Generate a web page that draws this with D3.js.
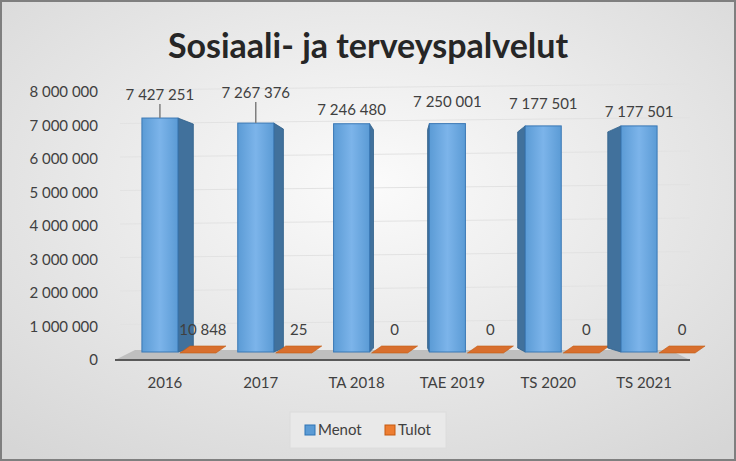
<!DOCTYPE html>
<html><head><meta charset="utf-8">
<script src="https://cdn.jsdelivr.net/npm/d3@7"></script>
<style>body{margin:0}svg{display:block;font-family:Lato,"Open Sans",sans-serif}</style>
</head><body><div id="chart"></div>
<script>
// values
var categories = ["2016", "2017", "TA 2018", "TAE 2019", "TS 2020", "TS 2021"]
var menot = [7427251, 7267376, 7246480, 7250001, 7177501, 7177501]
var tulot = [10848, 25, 0, 0, 0, 0]
var yTicks = [0, 1000000, 2000000, 3000000, 4000000, 5000000, 6000000, 7000000, 8000000]
var menotLabelDy = [-18, -25, -9, -17, -17, -9]

var W = 736, H = 461
var svg = d3.select("#chart").append("svg").attr("width", W).attr("height", H)

var defs = svg.append("defs")
var bg = defs.append("radialGradient").attr("id", "bg").attr("cx", "50%").attr("cy", "40%").attr("r", "75%")
bg.append("stop").attr("offset", "0%").attr("stop-color", "#fbfbfb")
bg.append("stop").attr("offset", "100%").attr("stop-color", "#d6d6d6")
var bf = defs.append("linearGradient").attr("id", "bf")
bf.append("stop").attr("offset", "0%").attr("stop-color", "#5b9bd5")
bf.append("stop").attr("offset", "50%").attr("stop-color", "#7cb4ea")
bf.append("stop").attr("offset", "100%").attr("stop-color", "#5b9bd5")

svg.append("rect").attr("x", 1).attr("y", 1).attr("width", W - 2).attr("height", H - 2)
    .attr("fill", "url(#bg)").attr("stroke", "#7f7f7f").attr("stroke-width", 2)

svg.append("text").attr("x", 368).attr("y", 58).attr("text-anchor", "middle")
    .attr("font-size", 34).attr("font-weight", "bold").attr("fill", "#262626")
    .text("Sosiaali- ja terveyspalvelut")

var x = d3.scaleBand().domain(categories).range([115, 690])
var yAxis = d3.scaleLinear().domain([0, 8000000]).range([360, 92])
var yBar = d3.scaleLinear().domain([0, 8000000]).range([352, 100])
var fmt = n => d3.format(",")(n).replace(/,/g, " ")

// gridlines
svg.append("g").selectAll("line").data(yTicks).enter().append("line")
    .attr("x1", 120).attr("x2", 690)
    .attr("y1", d => yAxis(d) - 2).attr("y2", d => yAxis(d) - 8)
    .attr("stroke", "#e2e2e2")

svg.append("g").selectAll("text").data(yTicks).enter().append("text")
    .attr("x", 98).attr("y", d => yAxis(d) + 5).attr("text-anchor", "end")
    .attr("font-size", 15).attr("fill", "#404040").text(d => fmt(d))

// floor
svg.append("path").attr("d", "M115,360 L690,360 L670,350 L135,350 Z").attr("fill", "#bfbfbf")
svg.append("line").attr("x1", 115).attr("x2", 690).attr("y1", 360).attr("y2", 360)
    .attr("stroke", "#595959").attr("stroke-width", 2)

var cx = d => x(d) + x.bandwidth() / 2
var depth = d => -(cx(d) - 420) * 0.06

var bars = svg.append("g").selectAll("g").data(categories).enter().append("g")

// side face
bars.append("path").attr("d", (d, i) => {
    var dx = depth(d), x0 = dx > 0 ? cx(d) + 15 : cx(d) - 21, top = yBar(menot[i]), b = 352
    return `M${x0},${top} L${x0 + dx},${top + 6} L${x0 + dx},${b - 4} L${x0},${b} Z`
}).attr("fill", "#41719c").attr("stroke", "#2e5f8a").attr("stroke-width", 0.8)

bars.append("rect").attr("x", d => cx(d) - 21).attr("width", 36)
    .attr("y", (d, i) => yBar(menot[i])).attr("height", (d, i) => 352 - yBar(menot[i]))
    .attr("fill", "url(#bf)").attr("stroke", "#3a78b5").attr("stroke-width", 1)

// tulot flat bars
bars.append("path").attr("d", (d, i) => {
    var x0 = cx(d) + 17, h = Math.max(1, 352 - yBar(tulot[i]))
    return `M${x0},353 L${x0 + 36},353 L${x0 + 46},${346 - h + 1} L${x0 + 10},${346 - h + 1} Z`
}).attr("fill", "#d86f2e").attr("stroke", "#c55a11").attr("stroke-width", 0.6)

// labels
bars.append("text").attr("x", d => cx(d) - 3).attr("y", (d, i) => yBar(menot[i]) + menotLabelDy[i])
    .attr("text-anchor", "middle").attr("font-size", 15).attr("fill", "#404040")
    .text((d, i) => fmt(menot[i]))
bars.filter((d, i) => i < 2).append("line")
    .attr("x1", d => cx(d) - 3).attr("x2", d => cx(d) - 3)
    .attr("y1", (d, i) => yBar(menot[i]) + menotLabelDy[i] + 4).attr("y2", (d, i) => yBar(menot[i]))
    .attr("stroke", "#7f7f7f").attr("stroke-width", 1.5)
bars.append("text").attr("x", d => cx(d) + 40).attr("y", 335)
    .attr("text-anchor", "middle").attr("font-size", 15).attr("fill", "#404040")
    .text((d, i) => fmt(tulot[i]))

svg.append("g").selectAll("text").data(categories).enter().append("text")
    .attr("x", d => cx(d) + 2).attr("y", 388).attr("text-anchor", "middle")
    .attr("font-size", 15).attr("fill", "#404040").text(d => d)

// legend
var lg = svg.append("g")
lg.append("rect").attr("x", 290).attr("y", 412).attr("width", 156).attr("height", 36)
    .attr("fill", "#e9e9e9").attr("stroke", "#dcdcdc")
var items = [["Menot", "#5b9bd5", "#2e75b6"], ["Tulot", "#ed7d31", "#c55a11"]]
items.forEach((it, i) => {
    var x0 = 305 + i * 80
    lg.append("rect").attr("x", x0).attr("y", 425).attr("width", 10).attr("height", 10)
        .attr("fill", it[1]).attr("stroke", it[2])
    lg.append("text").attr("x", x0 + 13).attr("y", 435).attr("font-size", 15)
        .attr("fill", "#404040").text(it[0])
})
</script></body></html>
